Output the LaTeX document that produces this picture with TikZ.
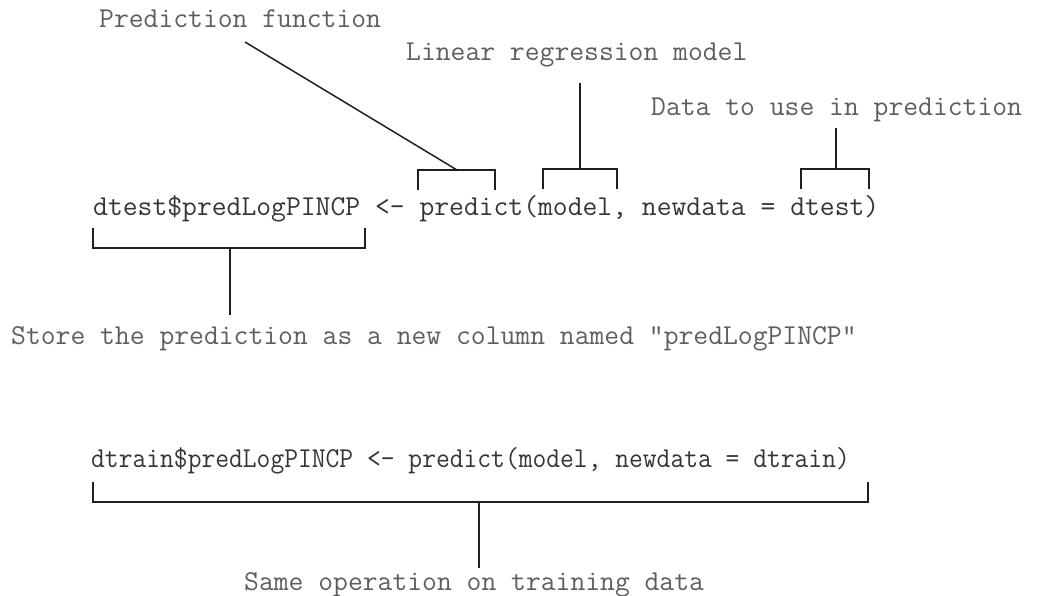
\documentclass[tikz,border=0pt]{standalone}
\usepackage{fontspec}
\usepackage{graphicx}
\definecolor{labelgray}{HTML}{5E5E5E}
\definecolor{codegray}{HTML}{353535}
\definecolor{linegray}{HTML}{202020}
\begin{document}
\begin{tikzpicture}[x=1pt,y=-1pt,
  lbl/.style={anchor=base west,inner sep=0pt,text=labelgray,font=\ttfamily\fontsize{28.8}{34}\selectfont},
  code/.style={anchor=base west,inner sep=0pt,text=codegray,font=\ttfamily\fontsize{28.8}{34}\selectfont},
  br/.style={draw=linegray,line width=1.8pt,line join=miter}]
\useasboundingbox (0,0) rectangle (1039,596);
% labels
\node[lbl] (pf) at (99,28) {Prediction function};
\node[lbl] (lrm) at (406,61) {Linear regression model};
\node[lbl] (dup) at (651,116) {Data to use in prediction};
\node[lbl] (store) at (11,344) {Store the prediction as a new column named "predLogPINCP"};
\node[lbl] (same) at (244,590) {Same operation on training data};
% code lines
\node[code] (code1) at (93,216) {dtest\$predLogPINCP <- predict(model, newdata = dtest)};
\node[code] (code2) at (91,467) {\scalebox{0.93}[1]{dtrain\$predLogPINCP <- predict(model, newdata = dtrain)}};
% bracket coordinates
\coordinate (pl) at (418,190); \coordinate (pr) at (495,190); \coordinate (pm) at (457,170);
\coordinate (ml) at (543,189); \coordinate (mr) at (617,189); \coordinate (mm) at (580,169);
\coordinate (dl) at (801,189); \coordinate (dr) at (869,189); \coordinate (dm) at (836,169);
\coordinate (sl) at (93,228); \coordinate (sr) at (365,228); \coordinate (sm) at (230,248);
\coordinate (tl) at (93,482); \coordinate (tr) at (868,482); \coordinate (tm) at (479,502);
% connector ends near the labels
\coordinate (pfend) at (245,42);
\coordinate (lrmend) at (580,83);
\coordinate (dupend) at (836,128);
\coordinate (storeend) at (230,315);
\coordinate (sameend) at (479,568);
% brackets above
\draw[br] (pl) |- (pm) -| (pr);
\draw[br] (ml) |- (mm) -| (mr);
\draw[br] (dl) |- (dm) -| (dr);
% brackets below
\draw[br] (sl) |- (sm) -| (sr);
\draw[br] (tl) |- (tm) -| (tr);
% connectors
\draw[br,line width=1.5pt] (pfend) -- (pm);
\draw[br] (lrmend) -- (mm);
\draw[br] (dupend) -- (dm);
\draw[br] (sm) -- (storeend);
\draw[br] (tm) -- (sameend);
\end{tikzpicture}
\end{document}
